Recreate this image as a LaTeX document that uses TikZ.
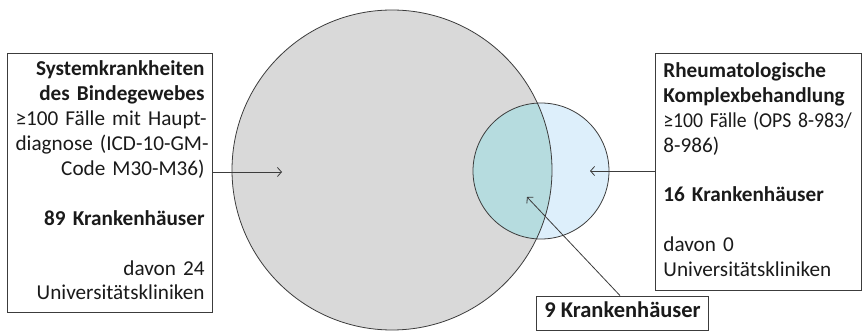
\documentclass[tikz,border=0pt]{standalone}
\usepackage{fontspec}
\setmainfont{Carlito}
\usetikzlibrary{arrows.meta}
\definecolor{biggray}{HTML}{D9D9D9}
\definecolor{smallblue}{HTML}{DDEFFB}
\definecolor{overlapteal}{HTML}{B6DCDF}
\definecolor{edgegray}{HTML}{3C3C3C}
\definecolor{txt}{HTML}{1A1A1A}
\tikzset{
  infobox/.style={draw=edgegray, line width=0.8pt, text=txt, inner xsep=8pt,
    font=\fontsize{21.2}{24.9}\selectfont},
  pointer/.style={draw=edgegray, line width=0.8pt, -{Straight Barb[length=4pt,width=9pt]}},
  ring/.style={draw=edgegray, line width=0.8pt}
}
\begin{document}
\begin{tikzpicture}[x=1pt,y=-1pt]
\useasboundingbox (0,0) rectangle (862,331);
% circles
\coordinate (cbig) at (392,170);
\coordinate (csmall) at (541,171);
\fill[biggray] (cbig) circle[radius=160pt];
\fill[smallblue] (csmall) circle[radius=68pt];
\begin{scope}
  \clip (cbig) circle[radius=160pt];
  \fill[overlapteal] (csmall) circle[radius=68pt];
\end{scope}
\draw[ring] (cbig) circle[radius=160pt];
\draw[ring] (csmall) circle[radius=68pt];
% boxes
\node[infobox, anchor=north east, inner ysep=5pt, text width=189pt, align=right] (lbox) at (213,53)
 {\strut\textbf{Systemkrankheiten}\\\textbf{des Bindegewebes}\\\mbox{≥100 Fälle mit Haupt-}\\\mbox{diagnose (ICD-10-GM-}\\Code M30-M36)\\\mbox{}\\\textbf{89 Krankenhäuser}\\\mbox{}\\davon 24\\Universitätskliniken\strut};
\node[infobox, anchor=north west, inner ysep=6.5pt, text width=190pt, align=left] (rbox) at (655,53)
 {\strut\textbf{Rheumatologische}\\\textbf{Komplexbehandlung}\\\scalebox{0.93}[1]{≥100 Fälle (OPS 8-983/}\\8-986)\\\mbox{}\\\textbf{16 Krankenhäuser}\\\mbox{}\\davon 0\\Universitätskliniken\strut};
\node[infobox, font=\fontsize{22.5}{24.9}\selectfont, minimum width=171pt, minimum height=34pt, inner ysep=2pt] (kbox) at (622.5,313)
 {\strut\textbf{9 Krankenhäuser}};
% arrows
\coordinate (aL) at (282,172);
\coordinate (aR) at (590,171);
\coordinate (aM) at (527,197);
\draw[pointer] (lbox.east |- aL) -- (aL);
\draw[pointer] (rbox.west |- aR) -- (aR);
\draw[pointer] ([xshift=-2.5pt]kbox.north) -- (aM);
\end{tikzpicture}
\end{document}
